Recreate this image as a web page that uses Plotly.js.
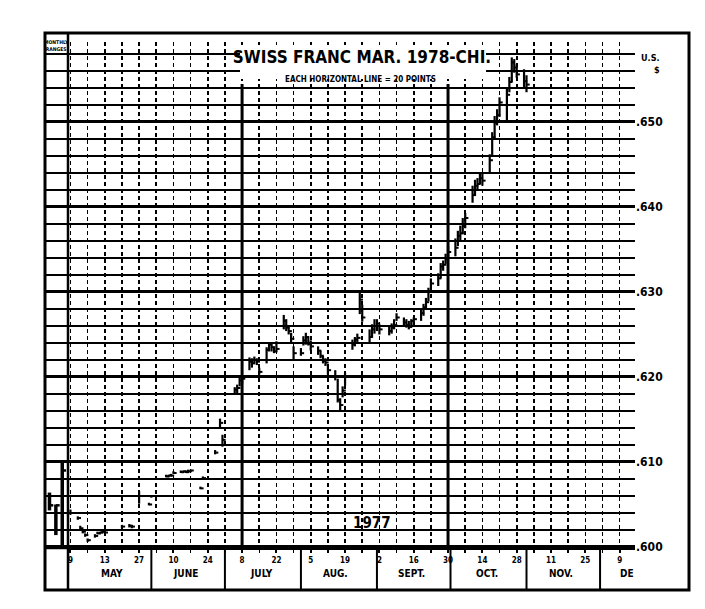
<!DOCTYPE html>
<html>
<head>
<meta charset="utf-8">
<script src="https://cdn.plot.ly/plotly-3.0.1.min.js"></script>
<style>html,body{margin:0;padding:0;background:#fff;}#chart{width:705px;height:609px;}</style>
</head>
<body>
<div id="chart"></div>
<script>
// ---- data ----
const dates = [
'1977-04-29','1977-05-02','1977-05-03','1977-05-04','1977-05-05','1977-05-06',
'1977-05-09','1977-05-10','1977-05-11','1977-05-12','1977-05-13',
'1977-05-20','1977-05-23','1977-05-24','1977-05-27','1977-05-31','1977-06-01',
'1977-06-07','1977-06-08','1977-06-09','1977-06-10','1977-06-13','1977-06-14','1977-06-15','1977-06-16','1977-06-17',
'1977-06-21','1977-06-22','1977-06-27','1977-06-29','1977-06-30',
'1977-07-05','1977-07-06','1977-07-07','1977-07-08',
'1977-07-11','1977-07-12','1977-07-13','1977-07-14','1977-07-15',
'1977-07-18','1977-07-19','1977-07-20','1977-07-21','1977-07-22',
'1977-07-25','1977-07-26','1977-07-27','1977-07-28','1977-07-29',
'1977-08-01','1977-08-02','1977-08-03','1977-08-04','1977-08-05',
'1977-08-08','1977-08-09','1977-08-10','1977-08-11','1977-08-12',
'1977-08-15','1977-08-16','1977-08-17','1977-08-18','1977-08-19',
'1977-08-22','1977-08-23','1977-08-24','1977-08-25','1977-08-26',
'1977-08-29','1977-08-30','1977-08-31','1977-09-01','1977-09-02',
'1977-09-06','1977-09-07','1977-09-08','1977-09-09',
'1977-09-12','1977-09-13','1977-09-14','1977-09-15','1977-09-16',
'1977-09-19','1977-09-20','1977-09-21','1977-09-22','1977-09-23',
'1977-09-26','1977-09-27','1977-09-28','1977-09-29','1977-09-30',
'1977-10-03','1977-10-04','1977-10-05','1977-10-06','1977-10-07',
'1977-10-10','1977-10-11','1977-10-12','1977-10-13','1977-10-14',
'1977-10-17','1977-10-18','1977-10-19','1977-10-20','1977-10-21',
'1977-10-24','1977-10-25','1977-10-26','1977-10-27','1977-10-28',
'1977-10-31','1977-11-01'
];
const highs = [
.6044,.6036,.6025,.6020,.6016,.6010,
.6015,.6018,.6018,.6019,.6019,
.6026,.6027,.6026,.6066,.6052,.6061,
.6085,.6085,.6086,.6089,.6090,.6090,.6090,.6091,.6091,
.6071,.6083,.6114,.6151,.6132,
.6188,.6191,.6199,.6201,
.6223,.6222,.6224,.6222,.6211,
.6235,.6240,.6239,.6236,.6242,
.6273,.6268,.6260,.6252,.6236,
.6234,.6248,.6252,.6248,.6243,
.6236,.6231,.6225,.6222,.6215,
.6208,.6198,.6175,.6189,.6205,
.6244,.6247,.6251,.6300,.6285,
.6256,.6262,.6268,.6268,.6262,
.6261,.6263,.6268,.6275,
.6270,.6268,.6266,.6268,.6270,
.6280,.6286,.6293,.6305,.6316,
.6322,.6334,.6337,.6345,.6354,
.6363,.6372,.6378,.6387,.6393,
.6425,.6432,.6434,.6439,.6440,
.6462,.6488,.6507,.6515,.6529,
.6541,.6553,.6576,.6574,.6568,
.6562,.6555
];
const lows = [
.6038,.6032,.6020,.6016,.6012,.6006,
.6011,.6015,.6015,.6016,.6016,
.6022,.6023,.6022,.6051,.6049,.6058,
.6082,.6082,.6083,.6086,.6087,.6087,.6087,.6087,.6088,
.6068,.6079,.6109,.6140,.6118,
.6180,.6181,.6189,.6192,
.6208,.6211,.6216,.6214,.6203,
.6216,.6230,.6230,.6228,.6229,
.6256,.6254,.6250,.6240,.6221,
.6225,.6237,.6238,.6237,.6231,
.6226,.6222,.6216,.6213,.6203,
.6196,.6170,.6161,.6176,.6190,
.6232,.6236,.6240,.6274,.6265,
.6241,.6246,.6251,.6254,.6250,
.6249,.6251,.6256,.6266,
.6261,.6258,.6256,.6258,.6261,
.6266,.6272,.6279,.6289,.6299,
.6307,.6316,.6325,.6333,.6340,
.6342,.6354,.6361,.6368,.6375,
.6405,.6413,.6420,.6427,.6425,
.6439,.6461,.6481,.6496,.6506,
.6501,.6535,.6547,.6558,.6552,
.6541,.6535
];
const closes = [
.6040,.6034,.6022,.6018,.6014,.6008,
.6013,.6016,.6017,.6018,.6017,
.6024,.6025,.6024,.6060,.6050,.6060,
.6083,.6084,.6084,.6087,.6088,.6089,.6088,.6089,.6090,
.6069,.6081,.6111,.6146,.6126,
.6185,.6187,.6196,.6198,
.6218,.6216,.6220,.6218,.6206,
.6232,.6238,.6235,.6230,.6233,
.6266,.6258,.6254,.6245,.6228,
.6228,.6243,.6247,.6239,.6236,
.6231,.6225,.6219,.6217,.6208,
.6200,.6173,.6167,.6184,.6200,
.6238,.6244,.6246,.6291,.6270,
.6247,.6256,.6260,.6263,.6256,
.6254,.6258,.6261,.6270,
.6264,.6261,.6259,.6266,.6268,
.6275,.6282,.6288,.6300,.6310,
.6316,.6330,.6332,.6339,.6347,
.6352,.6366,.6369,.6378,.6387,
.6414,.6425,.6427,.6434,.6431,
.6455,.6482,.6499,.6508,.6523,
.6532,.6547,.6570,.6564,.6556,
.6548,.6544
];
// monthly ranges column (left margin)
const monthlyPos  = [1, 2, 3];
const monthlyHigh = [.6064, .6050, .6102];
const monthlyLow  = [.6043, .6014, .6002];
const monthlyClose= [.6049, .6049, .6090];

// axis labels
const yTickVals = [0.600, 0.610, 0.620, 0.630, 0.640, 0.650];
const yTickText = ['.600', '.610', '.620', '.630', '.640', '.650'];
const xTickVals = ['1977-04-29','1977-05-13','1977-05-27','1977-06-10','1977-06-24','1977-07-08',
  '1977-07-22','1977-08-05','1977-08-19','1977-09-02','1977-09-16','1977-09-30',
  '1977-10-14','1977-10-28','1977-11-11','1977-11-25','1977-12-09'];
const xTickText = ['9','13','27','10','24','8','22','5','19','2','16','30','14','28','11','25','9'];
const monthNames = ['MAY','JUNE','JULY','AUG.','SEPT.','OCT.','NOV.','DE'];
const monthCenters = ['1977-05-16','1977-06-15','1977-07-16','1977-08-15','1977-09-15','1977-10-16','1977-11-15','1977-12-12'];
const monthStarts = ['1977-06-01','1977-07-01','1977-08-01','1977-09-01','1977-10-01','1977-11-01','1977-12-01'];
const heavyWeeks = ['1977-07-08','1977-09-30'];

// ---- build traces ----
const DAY = 86400000;
function iso(ms){ return new Date(ms).toISOString().slice(0,19).replace('T',' '); }
const segX = [], segY = [], clX = [], clY = [];
for (let i = 0; i < dates.length; i++) {
  segX.push(dates[i], dates[i], null);
  segY.push(lows[i], highs[i], null);
  const t = Date.parse(dates[i] + 'T00:00:00Z');
  clX.push(dates[i], iso(t + 1.3*DAY), null);
  clY.push(closes[i], closes[i], null);
}
const mX = [], mY = [], mcX = [], mcY = [];
for (let i = 0; i < monthlyPos.length; i++) {
  mX.push(monthlyPos[i], monthlyPos[i], null);
  mY.push(monthlyLow[i], monthlyHigh[i], null);
  mcX.push(monthlyPos[i], monthlyPos[i] + 0.6, null);
  mcY.push(monthlyClose[i], monthlyClose[i], null);
}

const FONT = "'Liberation Sans Narrow','DejaVu Sans Condensed','Roboto Condensed','Arial Narrow','DejaVu Sans',sans-serif";
const traces = [
  {type:'scatter', mode:'lines', x:segX, y:segY, xaxis:'x', yaxis:'y', line:{color:'#000', width:2.2}, hoverinfo:'skip'},
  {type:'scatter', mode:'lines', x:clX, y:clY, xaxis:'x', yaxis:'y', line:{color:'#000', width:2}, hoverinfo:'skip'},
  {type:'scatter', mode:'lines', x:mX, y:mY, xaxis:'x2', yaxis:'y', line:{color:'#000', width:3.5}, hoverinfo:'skip'},
  {type:'scatter', mode:'lines', x:mcX, y:mcY, xaxis:'x2', yaxis:'y', line:{color:'#000', width:2.5}, hoverinfo:'skip'}
];

// ---- layout ----
const PL = 45, PW = 590, PT = 42, PH = 506;
const px2paperX = p => (p - PL) / PW;
const px2paperY = p => (PT + PH - p) / PH;

const shapes = [];
// white patch under the title block
shapes.push({type:'rect', xref:'paper', yref:'paper', x0:px2paperX(240), x1:px2paperX(486), y0:px2paperY(79), y1:px2paperY(45), fillcolor:'#fff', line:{width:0}, layer:'above'});
heavyWeeks.forEach(d => shapes.push({type:'line', xref:'x', yref:'paper', x0:d, x1:d, y0:0, y1:px2paperY(84), line:{color:'#000', width:3}}));
monthStarts.forEach(d => shapes.push({type:'line', xref:'x', yref:'paper', x0:d, x1:d, y0:px2paperY(590), y1:0, line:{color:'#000', width:2}}));
// left divider & outer frame
shapes.push({type:'line', xref:'paper', yref:'paper', x0:px2paperX(68), x1:px2paperX(68), y0:px2paperY(590), y1:px2paperY(33), line:{color:'#000', width:2.5}});
shapes.push({type:'line', xref:'paper', yref:'paper', x0:0, x1:px2paperX(68), y0:0, y1:0, line:{color:'#000', width:2.5}});
shapes.push({type:'rect', xref:'paper', yref:'paper', x0:0, x1:px2paperX(689), y0:px2paperY(590), y1:px2paperY(33), line:{color:'#000', width:3}});

const annotations = [
  {text:'<b>EACH HORIZONTAL LINE = 20 POINTS</b>', xref:'paper', yref:'paper', x:px2paperX(360), y:px2paperY(73), showarrow:false, font:{size:8, family:FONT}},
  {text:'<b>1977</b>', xref:'x', yref:'y', x:'1977-08-30', y:0.6028, showarrow:false, font:{size:15, family:FONT}},
  {text:'<b>U.S.</b>', xref:'paper', yref:'paper', x:px2paperX(662), y:px2paperY(51), showarrow:false, font:{size:9, family:FONT}},
  {text:'<b>$</b>', xref:'paper', yref:'paper', x:px2paperX(662), y:px2paperY(63), showarrow:false, font:{size:9, family:FONT}},
  {text:'<b>MONTHLY<br>RANGES</b>', xref:'paper', yref:'paper', x:px2paperX(56), y:px2paperY(37), xanchor:'center', yanchor:'top', showarrow:false, font:{size:5, family:FONT}}
];
monthNames.forEach((m, i) => annotations.push({text:'<b>'+m+'</b>', xref:'x', yref:'paper', x:monthCenters[i], y:px2paperY(581), showarrow:false, font:{size:10, family:FONT}}));

const layout = {
  width:705, height:609,
  margin:{l:PL, r:705-PL-PW, t:PT, b:609-PT-PH, pad:0},
  paper_bgcolor:'#fff', plot_bgcolor:'#fff',
  showlegend:false,
  font:{family:FONT, color:'#000'},
  title:{text:'<b>SWISS FRANC MAR. 1978-CHI.</b>', xref:'container', yref:'container', x:362/705, y:1-57/609, xanchor:'center', yanchor:'middle', font:{size:17, family:FONT, color:'#000'}},
  xaxis:{type:'date', domain:[px2paperX(68), 1], range:['1977-04-28','1977-12-15 06:00'],
    tickmode:'array', tickvals:xTickVals, ticktext:xTickText.map(t=>'<b>'+t+'</b>'),
    ticks:'outside', ticklen:3, tickwidth:2, tickcolor:'#000', tickfont:{size:8, family:FONT},
    showgrid:true, gridcolor:'#000', gridwidth:1.6, griddash:'4px,3px',
    showline:true, linecolor:'#000', linewidth:2, zeroline:false, fixedrange:true,
    minor:{dtick:7*DAY, tick0:'1977-04-29', ticks:'outside', ticklen:3, tickwidth:1.5, tickcolor:'#000',
      showgrid:true, gridcolor:'#000', gridwidth:1.6, griddash:'4px,3px'}},
  xaxis2:{domain:[0, px2paperX(68)], range:[0.3, 3.9], anchor:'y', showgrid:false, showticklabels:false, ticks:'', zeroline:false, showline:false, fixedrange:true},
  yaxis:{anchor:'x', side:'right', range:[0.59988, 0.65941],
    tickmode:'array', tickvals:yTickVals, ticktext:yTickText.map(t=>'<b>'+t+'</b>'),
    ticks:'', tickfont:{size:12, family:FONT},
    showgrid:true, gridcolor:'#000', gridwidth:3, zeroline:false, showline:false, fixedrange:true,
    minor:{dtick:0.002, tick0:0, showgrid:true, gridcolor:'#000', gridwidth:1.4}},
  shapes:shapes,
  annotations:annotations
};

Plotly.newPlot('chart', traces, layout, {staticPlot:true, displayModeBar:false});
</script>
</body>
</html>
